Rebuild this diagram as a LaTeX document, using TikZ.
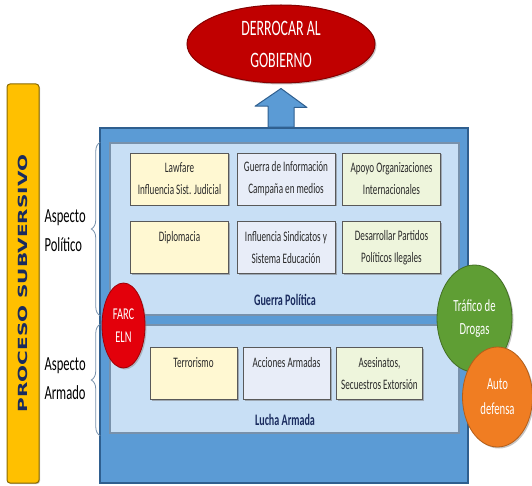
\documentclass[tikz,border=0pt]{standalone}
\usepackage{fontspec}
\setmainfont[FakeStretch=0.63]{Carlito}
\newfontfamily\barfont{DejaVu Sans}
\usepackage{xcolor}
\usepackage{tikz}
\usetikzlibrary{positioning,shapes,shapes.geometric,shadows,decorations.pathreplacing,calc}
\definecolor{outerblue}{HTML}{5B9BD5}
\definecolor{outerline}{HTML}{2F5F8F}
\definecolor{panelblue}{HTML}{C8DFF5}
\definecolor{panelline}{HTML}{7891AB}
\definecolor{baryellow}{HTML}{FFC000}
\definecolor{barline}{HTML}{8A6A00}
\definecolor{navy}{HTML}{1A2B5E}
\definecolor{goalred}{HTML}{C00000}
\definecolor{farcred}{HTML}{E3000B}
\definecolor{drugsgreen}{HTML}{5F9E34}
\definecolor{autoorange}{HTML}{F07D22}
\definecolor{ylwbox}{HTML}{FFF8D2}
\definecolor{lavbox}{HTML}{E8EDF8}
\definecolor{grnbox}{HTML}{EEF5DC}
\definecolor{itemtext}{HTML}{2A2A2A}
\tikzset{
  itembox/.style={draw=gray!70!black, line width=0.7pt, minimum width=98pt, minimum height=52pt,
    inner sep=0pt, align=center, text=itemtext, font=\fontsize{14.5}{22}\selectfont,
    drop shadow={shadow xshift=1.5pt, shadow yshift=-1.5pt, fill=black!55}},
  panel/.style={draw=panelline, fill=panelblue, line width=1.5pt, minimum width=349pt, inner sep=0pt},
  paneltitle/.style={text=navy, font=\fontsize{16}{20}\selectfont\bfseries},
  aspect/.style={anchor=west, align=left, font=\fontsize{20}{29}\selectfont},
  roundnode/.style={ellipse, inner sep=0pt, align=center, text=white,
    drop shadow={shadow xshift=1.5pt, shadow yshift=-1.5pt, fill=black!45}},
  bracestyle/.style={decorate, decoration={brace, amplitude=9pt}, draw=panelline, line width=0.8pt}
}
\begin{document}
\begin{tikzpicture}[x=1pt,y=-1pt]
      \useasboundingbox (0,0) rectangle (532,486);

      \node[draw=barline, fill=baryellow, line width=1pt, rounded corners=3pt, minimum width=32pt, minimum height=399pt,
        drop shadow={shadow xshift=1pt, shadow yshift=-1pt, fill=black!50}] at (23,283.5) (bar) {};
      \node[rotate=90, yscale=0.63, text=navy, font=\barfont\fontsize{20}{24}\selectfont\bfseries] at (bar.center) (bartxt) {PROCESO SUBVERSIVO};

      \node[roundnode, fill=goalred, draw=goalred!70!black, line width=1pt, minimum width=188pt, minimum height=78pt,
        font=\fontsize{22}{32}\selectfont] at (281,44) (goal) {DERROCAR AL\\GOBIERNO};

      \node[draw=outerline, fill=outerblue, line width=1.5pt, minimum width=368pt, minimum height=355pt, inner sep=0pt,
        drop shadow={shadow xshift=1pt, shadow yshift=-1pt, fill=black!40}] at (284,305.5) (outer) {};

      \path ($(goal.south)+(0,5)$) coordinate (tip);
      \draw[fill=outerblue, draw=outerline, line width=1pt, line join=round] (tip) -- ++(26,19) -- ++(-13,0)
        -- ($(outer.north -| tip)+(13,0)$) -- ($(outer.north -| tip)+(-13,0)$) -- ++(0,-21) -- ++(-13,0) -- cycle;

      \node[panel, minimum height=172pt] at (284.5,229) (polpanel) {};
      \node[panel, minimum height=108pt] at (284.5,379) (armpanel) {};

      \node[itembox, fill=ylwbox] at (179.5,179) (lawfare) {Lawfare\\Influencia Sist. Judicial};
      \node[itembox, fill=lavbox] at (286,179) (infowar) {Guerra de Información\\Campaña en medios};
      \node[itembox, fill=grnbox] at (391.5,179) (apoyo) {Apoyo Organizaciones\\Internacionales};
      \node[itembox, fill=ylwbox] at (179.5,247.5) (diplo) {Diplomacia\\\mbox{}};
      \node[itembox, fill=lavbox] at (286,247.5) (sindic) {Influencia Sindicatos y\\Sistema Educación};
      \node[itembox, fill=grnbox] at (391.5,247.5) (partidos) {Desarrollar Partidos\\Políticos Ilegales};
      \node[paneltitle] at (285,300) (guerra) {Guerra Política};

      \node[itembox, fill=ylwbox, minimum width=87pt] at (193.5,373.5) (terror) {Terrorismo\\\mbox{}};
      \node[itembox, fill=lavbox, minimum width=87pt] at (286.5,373.5) (acciones) {Acciones Armadas\\\mbox{}};
      \node[itembox, fill=grnbox, minimum width=86pt] at (379.5,373.5) (asesin) {Asesinatos,\\Secuestros Extorsión};
      \node[paneltitle] at (285,420) (lucha) {Lucha Armada};

      \draw[bracestyle] ($(polpanel.south west)+(-9,0)$) -- ($(polpanel.north west)+(-9,0)$);
      \draw[bracestyle] ($(armpanel.south west)+(-9,2)$) -- ($(armpanel.north west)+(-9,0)$);
      \node[aspect] at (41,231) (aspol) {Aspecto\\Político};
      \node[aspect] at (41,379) (asarm) {Aspecto\\Armado};

      \node[roundnode, fill=farcred, draw=farcred!70!black, line width=0.8pt, minimum width=43pt, minimum height=85pt,
        font=\fontsize{16.5}{23}\selectfont] at (123.5,325.5) (farc) {FARC\\ELN};
      \node[roundnode, fill=drugsgreen, draw=drugsgreen!70!black, line width=0.8pt, minimum width=75pt, minimum height=107pt,
        font=\fontsize{17}{23}\selectfont] at (474.5,318.5) (drogas) {Tráfico de\\Drogas};
      \node[roundnode, fill=autoorange, draw=autoorange!75!black, line width=0.8pt, minimum width=70pt, minimum height=100pt,
        font=\fontsize{17}{25}\selectfont] at (497.5,397) (autodef) {Auto\\defensa};
    \end{tikzpicture}
\end{document}
